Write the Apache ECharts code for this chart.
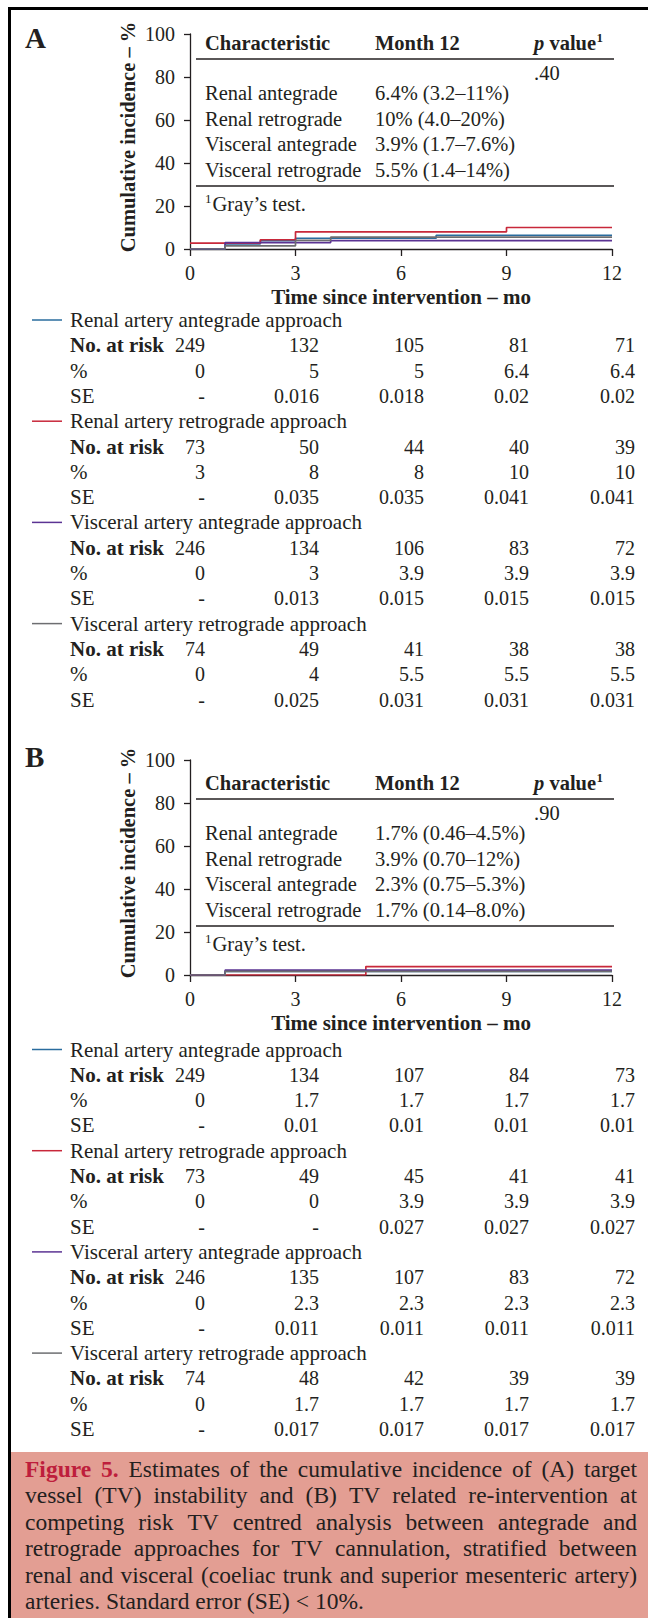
<!DOCTYPE html>
<html><head><meta charset="utf-8">
<script src="https://cdn.jsdelivr.net/npm/echarts@6/dist/echarts.min.js"></script>
<style>html,body{margin:0;padding:0;background:#fff}#c{width:648px;height:1618px}</style>
</head><body><div id="c"></div>
<script>
// ---------------- DATA ----------------
const monthTicks = [0, 3, 6, 9, 12];
const incidenceTicks = [0, 20, 40, 60, 80, 100];
const groupNames = ['Renal artery antegrade approach', 'Renal artery retrograde approach',
  'Visceral artery antegrade approach', 'Visceral artery retrograde approach'];
const insetNames = ['Renal antegrade', 'Renal retrograde', 'Visceral antegrade', 'Visceral retrograde'];

// Panel A: step curves [month, %]
const curveA_renalAnte = [[0, 0], [1, 2.4], [2, 3.9], [3, 5.0], [7, 6.4], [12, 6.4]];
const curveA_renalRetro = [[0, 2.7], [2, 4.3], [3, 8.0], [9, 10.0], [12, 10.0]];
const curveA_viscAnte = [[0, 0], [1, 3.0], [4, 3.9], [12, 3.9]];
const curveA_viscRetro = [[0, 0], [1, 1.5], [3, 4.0], [4, 5.5], [12, 5.5]];
// Panel B
const curveB_renalAnte = [[0, 0], [1, 1.7], [12, 1.7]];
const curveB_renalRetro = [[0, 0], [5, 3.9], [12, 3.9]];
const curveB_viscAnte = [[0, 0], [1, 2.3], [12, 2.3]];
const curveB_viscRetro = [[0, 0], [1, 1.7], [12, 1.7]];

const month12A = ['6.4% (3.2–11%)', '10% (4.0–20%)', '3.9% (1.7–7.6%)', '5.5% (1.4–14%)'];
const pValueA = '.40';
const month12B = ['1.7% (0.46–4.5%)', '3.9% (0.70–12%)', '2.3% (0.75–5.3%)', '1.7% (0.14–8.0%)'];
const pValueB = '.90';

const atRiskA = [[249, 132, 105, 81, 71], [73, 50, 44, 40, 39], [246, 134, 106, 83, 72], [74, 49, 41, 38, 38]];
const pctA = [['0', '5', '5', '6.4', '6.4'], ['3', '8', '8', '10', '10'], ['0', '3', '3.9', '3.9', '3.9'], ['0', '4', '5.5', '5.5', '5.5']];
const seA = [['-', '0.016', '0.018', '0.02', '0.02'], ['-', '0.035', '0.035', '0.041', '0.041'],
  ['-', '0.013', '0.015', '0.015', '0.015'], ['-', '0.025', '0.031', '0.031', '0.031']];
const atRiskB = [[249, 134, 107, 84, 73], [73, 49, 45, 41, 41], [246, 135, 107, 83, 72], [74, 48, 42, 39, 39]];
const pctB = [['0', '1.7', '1.7', '1.7', '1.7'], ['0', '0', '3.9', '3.9', '3.9'], ['0', '2.3', '2.3', '2.3', '2.3'], ['0', '1.7', '1.7', '1.7', '1.7']];
const seB = [['-', '0.01', '0.01', '0.01', '0.01'], ['-', '-', '0.027', '0.027', '0.027'],
  ['-', '0.011', '0.011', '0.011', '0.011'], ['-', '0.017', '0.017', '0.017', '0.017']];

const xTitle = 'Time since intervention – mo';
const yTitle = 'Cumulative incidence – %';
const captionLead = 'Figure 5.';
const captionLines = [
  'Figure 5. Estimates of the cumulative incidence of (A) target',
  'vessel (TV) instability and (B) TV related re-intervention at',
  'competing risk TV centred analysis between antegrade and',
  'retrograde approaches for TV cannulation, stratified between',
  'renal and visceral (coeliac trunk and superior mesenteric artery)',
  'arteries. Standard error (SE) < 10%.'
];

// ---------------- STYLE / LAYOUT ----------------
const INK = '#231F20';
const SERIF = '"Liberation Serif", "Times New Roman", serif';
const COLORS = ['#2A6C9E', '#C8283A', '#5B3393', '#6D6E71'];
const F = (s, w, st) => (st || '') + ' ' + (w || 'normal') + ' ' + s + 'px ' + SERIF;

const cv = document.createElement('canvas').getContext('2d');
function mw(t, font) { cv.font = font; return cv.measureText(t).width; }

function T(x, y, text, o) {
  o = o || {};
  const font = o.font || F(21);
  const el = { type: 'text', x: x, y: y, silent: true, z: 10,
    style: { text: text, font: font, fill: o.fill || INK,
      align: o.align || 'left', verticalAlign: 'middle',
      textAlign: o.align || 'left', textVerticalAlign: 'middle' } };
  if (o.rotation) el.rotation = o.rotation;
  return el;
}
function L(x1, y1, x2, y2, w, c) {
  return { type: 'line', silent: true, z: 10, shape: { x1: x1, y1: y1, x2: x2, y2: y2 },
    style: { stroke: c || INK, lineWidth: w || 1.3 } };
}

const panels = [
  { label: 'A', labelY: 38, gridTop: 34, insetTop: 43, tableTop: 320, month12: month12A, p: pValueA,
    atRisk: atRiskA, pct: pctA, se: seA,
    curves: [curveA_renalAnte, curveA_renalRetro, curveA_viscAnte, curveA_viscRetro] },
  { label: 'B', labelY: 757, gridTop: 760, insetTop: 783, tableTop: 1049.5, month12: month12B, p: pValueB,
    atRisk: atRiskB, pct: pctB, se: seB,
    curves: [curveB_renalAnte, curveB_renalRetro, curveB_viscAnte, curveB_viscRetro] }
];
const GRID_LEFT = 190, GRID_W = 422, GRID_H = 215;
const COL_RIGHT = [205, 319, 424, 529, 635];
const ROW = 25.3;
const INSET = 20.5;

const graphics = [];
// frame
graphics.push(L(9.5, 7, 9.5, 1618, 3, '#000'));
graphics.push(L(8, 8.5, 648, 8.5, 3, '#000'));
// caption background
graphics.push({ type: 'rect', silent: true, z: 1, shape: { x: 11, y: 1452, width: 637, height: 166 }, style: { fill: '#E39E93' } });

panels.forEach(function (p) {
  graphics.push(T(25, p.labelY, p.label, { font: F(29, 'bold') }));
  // y axis title (rotated), centred slightly above axis centre as in the reference
  graphics.push(T(128, p.gridTop + 103, yTitle, { font: F(20.5, 'bold'), align: 'center', rotation: Math.PI / 2 }));
  // inset table
  const t = p.insetTop;
  graphics.push(T(205, t, 'Characteristic', { font: F(INSET, 'bold') }));
  graphics.push(T(375, t, 'Month 12', { font: F(INSET, 'bold') }));
  const pw = mw('p', F(INSET, 'bold', 'italic'));
  const vw = mw(' value', F(INSET, 'bold'));
  graphics.push(T(534, t, 'p', { font: F(INSET, 'bold', 'italic') }));
  graphics.push(T(534 + pw, t, ' value', { font: F(INSET, 'bold') }));
  graphics.push(T(534 + pw + vw + 0.5, t - 6, '1', { font: F(13, 'bold') }));
  graphics.push(L(196, t + 16, 614, t + 16, 1.4));
  graphics.push(T(534, t + 30, p.p, { font: F(INSET) }));
  for (let i = 0; i < 4; i++) {
    const y = t + 50 + i * 25.7;
    graphics.push(T(205, y, insetNames[i], { font: F(INSET) }));
    graphics.push(T(375, y, p.month12[i], { font: F(INSET) }));
  }
  graphics.push(L(196, t + 143, 614, t + 143, 1.4));
  graphics.push(T(205, t + 155, '1', { font: F(13) }));
  graphics.push(T(212.5, t + 161, 'Gray’s test.', { font: F(INSET) }));

  // risk table
  for (let g = 0; g < 4; g++) {
    const y0 = p.tableTop + g * 4 * ROW;
    graphics.push(L(32, y0, 62, y0, 1.5, COLORS[g]));
    graphics.push(T(70, y0, groupNames[g]));
    const rows = [['No. at risk', p.atRisk[g], true], ['%', p.pct[g], false], ['SE', p.se[g], false]];
    rows.forEach(function (r, k) {
      const y = y0 + (k + 1) * ROW;
      graphics.push(T(70, y, r[0], { font: F(21, r[2] ? 'bold' : 'normal') }));
      r[1].forEach(function (v, c) {
        graphics.push(T(COL_RIGHT[c], y, String(v), { align: 'right', font: F(20) }));
      });
    });
  }
});

// caption (justified)
const CAP_L = 25, CAP_R = 637, CAP_Y = 1469, CAP_STEP = 26.4;
const capFont = F(23.5), capBold = F(23.5, 'bold');
const leadWords = captionLead.split(' ');
captionLines.forEach(function (line, i) {
  const words = line.split(' ');
  const styled = words.map(function (w, k) {
    const lead = (i === 0 && k < leadWords.length);
    return { w: w, font: lead ? capBold : capFont, fill: lead ? '#BE1E3C' : INK };
  });
  const widths = styled.map(function (s) { return mw(s.w, s.font); });
  const total = widths.reduce(function (a, b) { return a + b; }, 0);
  const last = i === captionLines.length - 1;
  const gap = last ? mw(' ', capFont) : (CAP_R - CAP_L - total) / (words.length - 1);
  let x = CAP_L;
  styled.forEach(function (s, k) {
    graphics.push(T(x, CAP_Y + i * CAP_STEP, s.w, { font: s.font, fill: s.fill }));
    x += widths[k] + gap;
  });
});

// ---------------- CHART ----------------
const axisFont = { fontFamily: SERIF, fontSize: 20, color: INK };
const grids = [], xAxes = [], yAxes = [], series = [];
panels.forEach(function (p, gi) {
  grids.push({ left: GRID_LEFT, top: p.gridTop, width: GRID_W, height: GRID_H });
  xAxes.push({ gridIndex: gi, type: 'value', min: monthTicks[0], max: monthTicks[monthTicks.length - 1], interval: 3,
    axisLine: { lineStyle: { color: INK, width: 1.3 } },
    axisTick: { length: 7, lineStyle: { color: INK, width: 1.3 } },
    axisLabel: Object.assign({ margin: 14 }, axisFont),
    splitLine: { show: false },
    name: xTitle, nameLocation: 'middle', nameGap: 37,
    nameTextStyle: { fontFamily: SERIF, fontSize: 21, fontWeight: 'bold', color: INK } });
  yAxes.push({ gridIndex: gi, type: 'value', min: incidenceTicks[0], max: incidenceTicks[incidenceTicks.length - 1], interval: 20,
    axisLine: { show: true, lineStyle: { color: INK, width: 1.3 } },
    axisTick: { show: true, length: 6, lineStyle: { color: INK, width: 1.3 } },
    axisLabel: Object.assign({ margin: 15 }, axisFont),
    splitLine: { show: false } });
  const order = [3, 0, 2, 1];
  order.forEach(function (k) {
    series.push({ type: 'line', step: 'end', xAxisIndex: gi, yAxisIndex: gi, data: p.curves[k],
      symbol: 'none', showSymbol: false, color: COLORS[k], lineStyle: { width: 1.7, color: COLORS[k] }, z: 3 + k });
  });
});

const chart = echarts.init(document.getElementById('c'), null, { renderer: 'svg', width: 648, height: 1618 });
chart.setOption({
  animation: false,
  backgroundColor: '#fff',
  grid: grids, xAxis: xAxes, yAxis: yAxes, series: series,
  graphic: graphics
});
</script>
</body></html>
